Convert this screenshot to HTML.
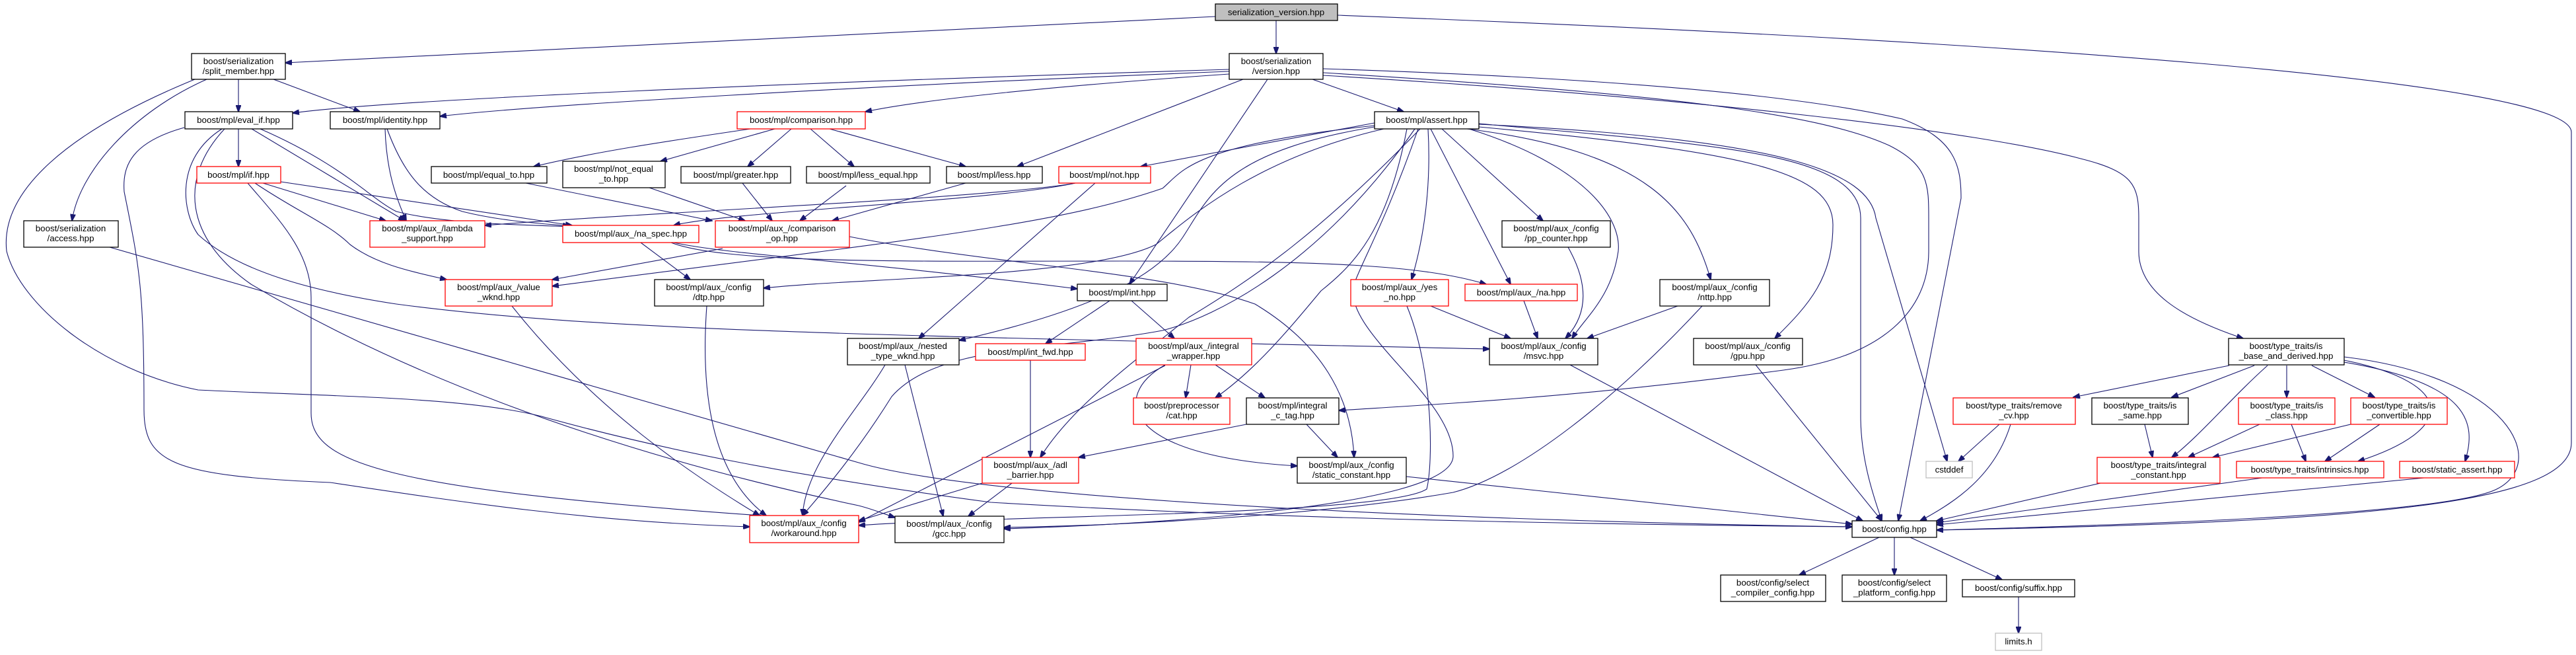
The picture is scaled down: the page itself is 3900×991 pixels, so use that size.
<!DOCTYPE html>
<html><head><meta charset="utf-8"><style>
html,body{margin:0;padding:0;background:#fff;}
svg{display:block;}
text{font-family:"Liberation Sans",sans-serif;font-size:13.3px;fill:#000;text-anchor:middle;}
.e{fill:none;stroke:#191970;stroke-width:1.1;marker-end:url(#a);}
.n{fill:#fff;stroke:#000;stroke-width:1.3;}
.r{fill:#fff;stroke:#ff0000;stroke-width:1.3;}
.g{fill:#fff;stroke:#bfbfbf;stroke-width:1.3;}
</style></head><body>
<svg width="3900" height="991" viewBox="0 0 3900 991" xmlns="http://www.w3.org/2000/svg">
<defs><marker id="a" markerWidth="11" markerHeight="8" refX="10" refY="4" orient="auto" markerUnits="userSpaceOnUse"><path d="M0,0 L11,4 L0,8 z" fill="#191970" stroke="#191970"/></marker></defs>
<g>
<!-- from serialization_version -->
<path class="e" d="M1840,25 L432,95"/>
<path class="e" d="M1932,31 L1932,81"/>
<path class="e" d="M2025,23 C3000,60 3893,120 3893,200 L3893,670 C3893,760 3600,790 2932,802"/>
<!-- from version.hpp -->
<path class="e" d="M1861,105 C1200,125 600,150 443,171"/>
<path class="e" d="M1861,108 C1300,130 800,160 666,176"/>
<path class="e" d="M1861,112 C1600,130 1400,150 1310,169"/>
<path class="e" d="M1882,120 L1540,252"/>
<path class="e" d="M1919,120 L1710,430"/>
<path class="e" d="M1987,120 L2125,169"/>
<path class="e" d="M2003,104 C2500,120 2750,150 2880,180 C2960,210 2969,250 2969,300 L2874,788"/>
<path class="e" d="M2003,110 C2500,140 2750,170 2860,220 C2920,250 2920,280 2920,330 L2920,380 C2920,470 2850,540 2700,560 C2400,600 2200,610 2027,621"/>
<path class="e" d="M2003,114 C2600,150 3000,200 3150,240 C3230,260 3238,280 3238,330 L3238,380 C3238,440 3300,480 3396,512"/>
<!-- split_member -->
<path class="e" d="M361,120 L361,169"/>
<path class="e" d="M414,120 L545,169"/>
<path class="e" d="M313,120 C200,170 120,260 109,334"/>
<path class="e" d="M295,120 C100,200 0,290 10,380 C30,460 150,560 300,590 C500,600 700,600 820,630 C1000,680 1200,720 1500,760 C2000,790 2600,795 2804,797"/>
<!-- eval_if -->
<path class="e" d="M361,195 L361,252"/>
<path class="e" d="M381,195 L613,334"/>
<path class="e" d="M394,195 C520,250 560,300 600,320 C680,340 800,340 862,343"/>
<path class="e" d="M279,193 C200,215 185,250 188,290 C210,400 218,430 218,620 C218,700 260,720 500,730 C700,760 900,790 1135,797"/>
<path class="e" d="M336,195 C265,240 275,320 300,355 C360,410 470,440 600,460 C900,500 1300,507 2255,528"/>
<path class="e" d="M340,195 C270,270 280,360 380,430 C600,560 900,680 1300,765 C1320,770 1340,778 1355,783"/>
<!-- access -->
<path class="e" d="M166,374 L1300,700 C1500,760 2300,790 2804,797"/>
<!-- identity -->
<path class="e" d="M583,195 C585,260 600,300 615,334"/>
<path class="e" d="M586,195 C610,260 640,300 700,320 C760,335 820,338 862,342"/>
<!-- if -->
<path class="e" d="M398,277 L584,334"/>
<path class="e" d="M425,275 L866,341"/>
<path class="e" d="M386,277 C450,320 500,340 530,370 C570,400 620,410 676,423"/>
<path class="e" d="M375,277 C420,330 471,380 471,450 L471,625 C471,700 580,740 1152,780"/>
<!-- comparison -->
<path class="e" d="M1136,195 C1000,215 900,230 808,252"/>
<path class="e" d="M1173,195 L1000,244"/>
<path class="e" d="M1198,195 L1132,252"/>
<path class="e" d="M1227,195 L1293,252"/>
<path class="e" d="M1256,195 L1462,252"/>
<!-- comparison ops -->
<path class="e" d="M796,277 L1078,334"/>
<path class="e" d="M983,284 L1128,334"/>
<path class="e" d="M1124,277 L1169,334"/>
<path class="e" d="M1281,281 L1211,334"/>
<path class="e" d="M1462,277 L1260,334"/>
<!-- not -->
<path class="e" d="M1628,277 C1500,300 1000,320 734,341"/>
<path class="e" d="M1628,277 C1500,305 1100,320 1020,341"/>
<path class="e" d="M1658,277 L1391,512"/>
<!-- comparison_op -->
<path class="e" d="M1286,358 C1500,400 1764,411 1900,460 C2000,520 2046,600 2050,692"/>
<path class="e" d="M1094,376 L836,423"/>
<!-- na_spec -->
<path class="e" d="M970,367 L1045,423"/>
<path class="e" d="M1016,367 C1100,400 1400,395 1700,395 C2000,395 2150,400 2250,430"/>
<path class="e" d="M1020,367 C1100,385 1300,395 1631,437"/>
<!-- dtp, value_wknd -->
<path class="e" d="M1070,463 C1060,600 1080,720 1160,780"/>
<path class="e" d="M775,463 C900,620 1050,720 1150,780"/>
<!-- assert -->
<path class="e" d="M2081,186 L1727,252"/>
<path class="e" d="M2081,190 C1800,220 1790,260 1760,285 C1600,340 1400,360 836,433"/>
<path class="e" d="M2095,195 C1900,240 1800,330 1750,370 C1650,420 1300,420 1156,436"/>
<path class="e" d="M2081,192 C1850,230 1830,300 1790,360 C1750,420 1650,470 1452,515"/>
<path class="e" d="M2150,195 C2000,350 1900,420 1800,480 C1700,560 1620,620 1575,692"/>
<path class="e" d="M2142,195 C2000,400 1840,480 1760,500 C1600,530 1420,520 1350,600 C1300,680 1250,740 1215,780"/>
<path class="e" d="M2130,195 C2100,350 2050,400 2000,440 C1950,500 1900,560 1840,602"/>
<path class="e" d="M2183,195 L2336,334"/>
<path class="e" d="M2166,195 L2287,430"/>
<path class="e" d="M2162,195 C2168,300 2150,380 2137,423"/>
<path class="e" d="M2224,195 C2400,250 2455,330 2450,380 C2440,450 2400,480 2380,512"/>
<path class="e" d="M2221,195 C2500,230 2560,320 2590,423"/>
<path class="e" d="M2147,195 C2100,330 2060,400 2050,430 C2030,500 2200,600 2200,690 C2200,770 1700,795 1520,800"/>
<path class="e" d="M2239,187 C2600,220 2817,230 2817,330 L2817,630 C2817,700 2840,760 2849,788"/>
<path class="e" d="M2239,192 C2650,230 2775,260 2775,340 C2775,420 2740,460 2687,512"/>
<path class="e" d="M2239,188 C2700,210 2830,260 2840,330 L2948,698"/>
<!-- int etc -->
<path class="e" d="M1680,455 L1583,520"/>
<path class="e" d="M1713,455 L1778,512"/>
<path class="e" d="M1803,552 L1795,602"/>
<path class="e" d="M1840,552 L1915,602"/>
<path class="e" d="M1764,552 C1680,600 1700,690 1964,705"/>
<path class="e" d="M1764,553 L1300,790"/>
<path class="e" d="M1887,642 L1633,692"/>
<path class="e" d="M1978,642 L2025,692"/>
<path class="e" d="M1560,545 L1560,692"/>
<path class="e" d="M1532,731 L1466,781"/>
<path class="e" d="M1487,731 L1300,788"/>
<path class="e" d="M1370,552 L1428,781"/>
<path class="e" d="M1340,552 C1300,620 1220,700 1215,780"/>
<path class="e" d="M2129,721 L2804,793"/>
<path class="e" d="M2377,552 L2820,788"/>
<path class="e" d="M2166,463 L2287,512"/>
<path class="e" d="M2130,463 C2170,560 2170,700 2160,740 C2100,780 1500,780 1300,795"/>
<path class="e" d="M2307,455 L2328,512"/>
<path class="e" d="M2374,374 C2400,420 2410,470 2370,512"/>
<path class="e" d="M2540,463 L2403,512"/>
<path class="e" d="M2577,463 C2450,600 2300,720 2200,745 C2000,780 1700,795 1520,798"/>
<path class="e" d="M2658,552 L2849,788"/>
<!-- type_traits -->
<path class="e" d="M3375,553 L3139,601"/>
<path class="e" d="M3413,553 L3288,601"/>
<path class="e" d="M3462,553 L3462,601"/>
<path class="e" d="M3500,553 L3595,601"/>
<path class="e" d="M3433,553 C3380,600 3330,660 3288,692"/>
<path class="e" d="M3549,545 C3720,580 3720,650 3570,698"/>
<path class="e" d="M3549,548 C3740,580 3750,640 3732,698"/>
<path class="e" d="M3549,540 C3800,570 3860,700 3780,740 C3700,780 3200,795 2932,802"/>
<path class="e" d="M3027,642 L2965,698"/>
<path class="e" d="M3044,642 C3020,720 2960,760 2907,788"/>
<path class="e" d="M3247,642 L3259,692"/>
<path class="e" d="M3421,642 L3313,692"/>
<path class="e" d="M3469,642 L3491,698"/>
<path class="e" d="M3559,642 L3350,692"/>
<path class="e" d="M3603,642 L3520,698"/>
<path class="e" d="M3180,731 L2932,788"/>
<path class="e" d="M3425,723 L2932,791"/>
<path class="e" d="M3670,723 L2932,794"/>
<path class="e" d="M2845,813 L2724,870"/>
<path class="e" d="M2868,813 L2868,870"/>
<path class="e" d="M2892,813 L3031,877"/>
<path class="e" d="M3056,903 L3056,958"/>
</g>
<g>
<rect x="1840" y="6" width="185" height="25" fill="#bfbfbf" stroke="#000" stroke-width="1.3"/><text x="1932" y="23">serialization_version.hpp</text>
<rect class="n" x="1861" y="81" width="142" height="39"/><text x="1932" y="97">boost/serialization</text><text x="1932" y="112">/version.hpp</text>
<rect class="n" x="290" y="81" width="142" height="39"/><text x="361" y="97">boost/serialization</text><text x="361" y="112">/split_member.hpp</text>
<rect class="n" x="280" y="169" width="163" height="26"/><text x="361" y="186">boost/mpl/eval_if.hpp</text>
<rect class="n" x="500" y="169" width="166" height="26"/><text x="583" y="186">boost/mpl/identity.hpp</text>
<rect class="r" x="1116" y="169" width="194" height="26"/><text x="1213" y="186">boost/mpl/comparison.hpp</text>
<rect class="n" x="2081" y="169" width="158" height="26"/><text x="2160" y="186">boost/mpl/assert.hpp</text>
<rect class="r" x="298" y="252" width="127" height="25"/><text x="361" y="269">boost/mpl/if.hpp</text>
<rect class="n" x="653" y="252" width="175" height="25"/><text x="740" y="269">boost/mpl/equal_to.hpp</text>
<rect class="n" x="852" y="244" width="155" height="40"/><text x="929" y="260">boost/mpl/not_equal</text><text x="929" y="275">_to.hpp</text>
<rect class="n" x="1031" y="252" width="166" height="25"/><text x="1114" y="269">boost/mpl/greater.hpp</text>
<rect class="n" x="1221" y="252" width="187" height="25"/><text x="1314" y="269">boost/mpl/less_equal.hpp</text>
<rect class="n" x="1433" y="252" width="145" height="25"/><text x="1505" y="269">boost/mpl/less.hpp</text>
<rect class="r" x="1603" y="252" width="139" height="25"/><text x="1672" y="269">boost/mpl/not.hpp</text>
<rect class="n" x="36" y="334" width="143" height="40"/><text x="107" y="350">boost/serialization</text><text x="107" y="365">/access.hpp</text>
<rect class="r" x="560" y="334" width="174" height="40"/><text x="647" y="350">boost/mpl/aux_/lambda</text><text x="647" y="365">_support.hpp</text>
<rect class="r" x="852" y="341" width="206" height="26"/><text x="955" y="358">boost/mpl/aux_/na_spec.hpp</text>
<rect class="r" x="1083" y="334" width="203" height="40"/><text x="1184" y="350">boost/mpl/aux_/comparison</text><text x="1184" y="365">_op.hpp</text>
<rect class="n" x="2274" y="334" width="164" height="40"/><text x="2356" y="350">boost/mpl/aux_/config</text><text x="2356" y="365">/pp_counter.hpp</text>
<rect class="r" x="674" y="423" width="162" height="40"/><text x="755" y="439">boost/mpl/aux_/value</text><text x="755" y="454">_wknd.hpp</text>
<rect class="n" x="991" y="423" width="165" height="40"/><text x="1073" y="439">boost/mpl/aux_/config</text><text x="1073" y="454">/dtp.hpp</text>
<rect class="n" x="1631" y="430" width="136" height="25"/><text x="1699" y="447">boost/mpl/int.hpp</text>
<rect class="r" x="2045" y="423" width="148" height="40"/><text x="2119" y="439">boost/mpl/aux_/yes</text><text x="2119" y="454">_no.hpp</text>
<rect class="r" x="2218" y="430" width="170" height="25"/><text x="2303" y="447">boost/mpl/aux_/na.hpp</text>
<rect class="n" x="2513" y="423" width="166" height="40"/><text x="2596" y="439">boost/mpl/aux_/config</text><text x="2596" y="454">/nttp.hpp</text>
<rect class="n" x="1283" y="512" width="169" height="40"/><text x="1367" y="528">boost/mpl/aux_/nested</text><text x="1367" y="543">_type_wknd.hpp</text>
<rect class="r" x="1477" y="520" width="166" height="25"/><text x="1560" y="537">boost/mpl/int_fwd.hpp</text>
<rect class="r" x="1720" y="512" width="175" height="40"/><text x="1807" y="528">boost/mpl/aux_/integral</text><text x="1807" y="543">_wrapper.hpp</text>
<rect class="n" x="2255" y="512" width="164" height="40"/><text x="2337" y="528">boost/mpl/aux_/config</text><text x="2337" y="543">/msvc.hpp</text>
<rect class="n" x="2564" y="512" width="165" height="40"/><text x="2646" y="528">boost/mpl/aux_/config</text><text x="2646" y="543">/gpu.hpp</text>
<rect class="n" x="3374" y="512" width="175" height="40"/><text x="3461" y="528">boost/type_traits/is</text><text x="3461" y="543">_base_and_derived.hpp</text>
<rect class="r" x="1716" y="602" width="146" height="40"/><text x="1789" y="618">boost/preprocessor</text><text x="1789" y="633">/cat.hpp</text>
<rect class="n" x="1887" y="602" width="140" height="40"/><text x="1957" y="618">boost/mpl/integral</text><text x="1957" y="633">_c_tag.hpp</text>
<rect class="r" x="2957" y="602" width="185" height="40"/><text x="3049" y="618">boost/type_traits/remove</text><text x="3049" y="633">_cv.hpp</text>
<rect class="n" x="3167" y="602" width="146" height="40"/><text x="3240" y="618">boost/type_traits/is</text><text x="3240" y="633">_same.hpp</text>
<rect class="r" x="3389" y="602" width="146" height="40"/><text x="3462" y="618">boost/type_traits/is</text><text x="3462" y="633">_class.hpp</text>
<rect class="r" x="3559" y="602" width="146" height="40"/><text x="3632" y="618">boost/type_traits/is</text><text x="3632" y="633">_convertible.hpp</text>
<rect class="r" x="1487" y="692" width="146" height="39"/><text x="1560" y="708">boost/mpl/aux_/adl</text><text x="1560" y="723">_barrier.hpp</text>
<rect class="n" x="1964" y="692" width="165" height="39"/><text x="2046" y="708">boost/mpl/aux_/config</text><text x="2046" y="723">/static_constant.hpp</text>
<rect class="g" x="2916" y="698" width="70" height="25"/><text x="2951" y="715">cstddef</text>
<rect class="r" x="3175" y="692" width="186" height="39"/><text x="3268" y="708">boost/type_traits/integral</text><text x="3268" y="723">_constant.hpp</text>
<rect class="r" x="3386" y="698" width="223" height="25"/><text x="3497" y="715">boost/type_traits/intrinsics.hpp</text>
<rect class="r" x="3633" y="698" width="174" height="25"/><text x="3720" y="715">boost/static_assert.hpp</text>
<rect class="r" x="1135" y="780" width="165" height="41"/><text x="1217" y="796">boost/mpl/aux_/config</text><text x="1217" y="811">/workaround.hpp</text>
<rect class="n" x="1355" y="781" width="165" height="40"/><text x="1437" y="797">boost/mpl/aux_/config</text><text x="1437" y="812">/gcc.hpp</text>
<rect class="n" x="2804" y="788" width="128" height="25"/><text x="2868" y="805">boost/config.hpp</text>
<rect class="n" x="2605" y="870" width="159" height="40"/><text x="2684" y="886">boost/config/select</text><text x="2684" y="901">_compiler_config.hpp</text>
<rect class="n" x="2789" y="870" width="158" height="40"/><text x="2868" y="886">boost/config/select</text><text x="2868" y="901">_platform_config.hpp</text>
<rect class="n" x="2971" y="877" width="170" height="26"/><text x="3056" y="894">boost/config/suffix.hpp</text>
<rect class="g" x="3021" y="958" width="70" height="26"/><text x="3056" y="975">limits.h</text>
</g>
</svg>
</body></html>
